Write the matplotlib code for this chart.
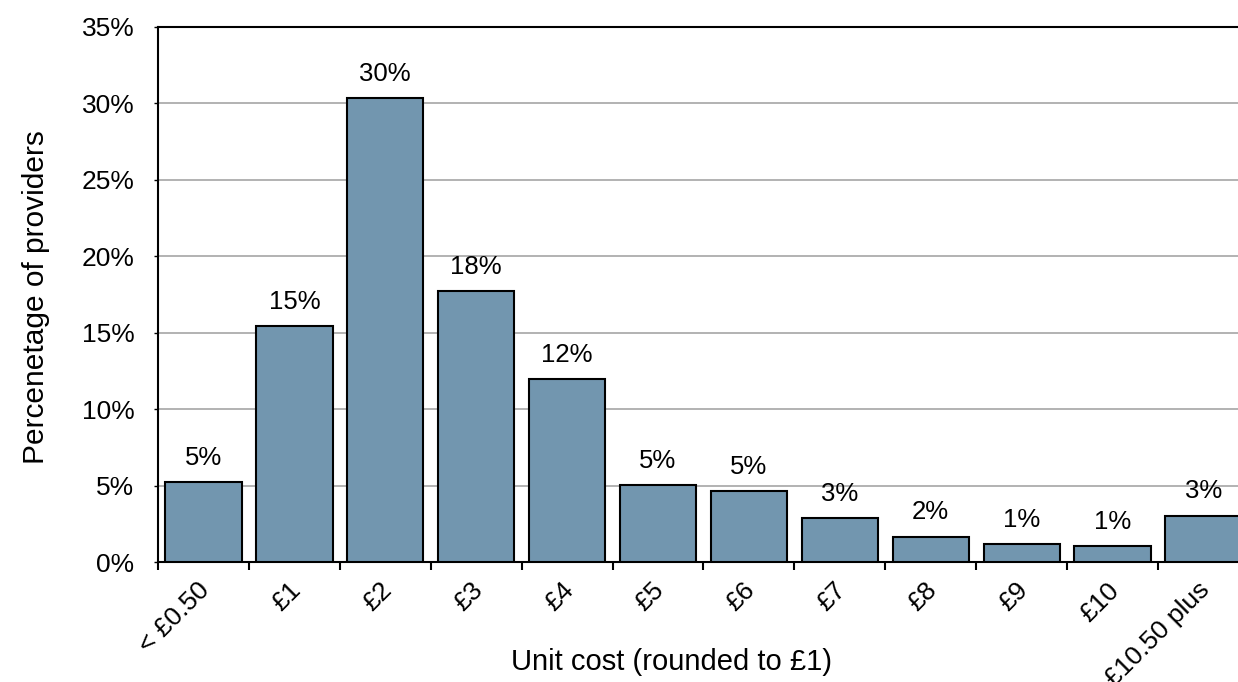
import matplotlib
matplotlib.use("Agg")
import matplotlib.pyplot as plt
import matplotlib.transforms as mtransforms
import numpy as np
from matplotlib.ticker import FixedLocator, NullFormatter

plt.rcParams['font.family'] = ['Liberation Sans', 'DejaVu Sans']

categories = ["< £0.50", "£1", "£2", "£3", "£4", "£5", "£6", "£7", "£8", "£9", "£10", "£10.50 plus"]
values = [5.24, 15.45, 30.35, 17.74, 11.98, 5.04, 4.65, 2.88, 1.66, 1.16, 1.05, 3.03]
labels = ["5%", "15%", "30%", "18%", "12%", "5%", "5%", "3%", "2%", "1%", "1%", "3%"]
yticks = [0, 5, 10, 15, 20, 25, 30, 35]

W, H = 1238, 682
fig = plt.figure(figsize=(W / 100, H / 100), dpi=100)
left, right = 158, 1249
top, bottom = 27, 562
ax = fig.add_axes([left / W, 1 - bottom / H, (right - left) / W, (bottom - top) / H])

x = np.arange(len(categories))
ax.bar(x, values, width=0.84, color="#7296AF", edgecolor="black", linewidth=1.5, zorder=3)
for xi, v, lab in zip(x, values, labels):
    ax.text(xi, v + 0.8, lab, ha="center", va="bottom", fontsize=18.5)

ax.set_xlim(-0.5, len(categories) - 0.5)
ax.set_ylim(0, 35)
ax.set_yticks(yticks)
ax.set_yticklabels([f"{t}%" for t in yticks], fontsize=19)
ax.yaxis.grid(True, color="#A6A6A6", linewidth=1.2, zorder=0)
ax.set_axisbelow(True)

# category labels (rotated), placed at category centres below the axis
ax.set_xticks(x)
ax.xaxis.set_major_formatter(NullFormatter())
offset = mtransforms.ScaledTranslation(-6 / 100, -16 / 100, fig.dpi_scale_trans)
lab_trans = ax.get_xaxis_transform() + offset
for xi, cat in zip(x, categories):
    ax.text(xi, 0, cat, transform=lab_trans, rotation=45, ha="right", va="top",
            rotation_mode="anchor", fontsize=19, clip_on=False)

ax.xaxis.set_minor_locator(FixedLocator(np.arange(-0.5, len(categories), 1.0)))
ax.tick_params(axis="x", which="major", length=0)
ax.tick_params(axis="x", which="minor", length=6, width=1.5, direction="out")
ax.tick_params(axis="y", which="major", length=3, width=1, direction="out", pad=14)

ax.spines["right"].set_visible(False)
for s in ["left", "bottom", "top"]:
    ax.spines[s].set_linewidth(1.5)
    ax.spines[s].set_color("black")

ax.set_ylabel("Percenetage of providers", fontsize=21.5)
ax.yaxis.set_label_coords((50 - left) / (right - left), (bottom - 297) / (bottom - top))
ax.set_xlabel("Unit cost (rounded to £1)", fontsize=21)
ax.xaxis.set_label_coords((672 - left) / (right - left), -(648 - bottom) / (bottom - top))

fig.savefig("out.png", dpi=100)
